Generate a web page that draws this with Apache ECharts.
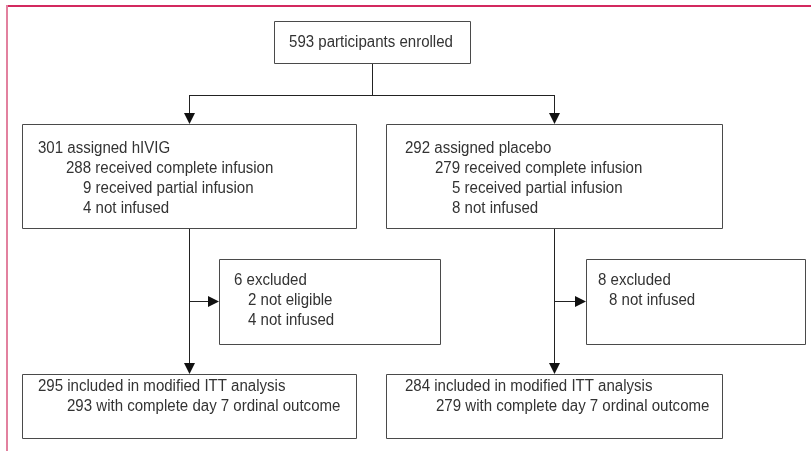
<!DOCTYPE html>
<html>
<head>
<meta charset="utf-8">
<script src="https://cdn.jsdelivr.net/npm/echarts@6/dist/echarts.min.js"></script>
<style>
  html, body { margin: 0; padding: 0; background: #fff; }
  #main { width: 811px; height: 451px; }
</style>
</head>
<body>
<div id="main"></div>
<script>
// box texts (flow counts)
const enrolledText = ['593 participants enrolled']
const hivigText = ['301 assigned hIVIG', '288 received complete infusion', '9 received partial infusion', '4 not infused']
const placeboText = ['292 assigned placebo', '279 received complete infusion', '5 received partial infusion', '8 not infused']
const hivigExcludedText = ['6 excluded', '2 not eligible', '4 not infused']
const placeboExcludedText = ['8 excluded', '8 not infused']
const hivigIttText = ['295 included in modified ITT analysis', '293 with complete day 7 ordinal outcome']
const placeboIttText = ['284 included in modified ITT analysis', '279 with complete day 7 ordinal outcome']

// layout, in page pixels
const boxes = [
  { text: enrolledText, rect: [274, 21, 470, 63], tx: [371], ty: 42, align: 'center' },
  { text: hivigText, rect: [22, 124, 356, 228], tx: [38, 66, 83, 83], ty: 148 },
  { text: placeboText, rect: [386, 124, 722, 228], tx: [405, 435, 452, 452], ty: 148 },
  { text: hivigExcludedText, rect: [219, 259, 440, 344], tx: [234, 248, 248], ty: 280 },
  { text: placeboExcludedText, rect: [586, 259, 805, 344], tx: [598, 609], ty: 280 },
  { text: hivigIttText, rect: [22, 374, 356, 438], tx: [38, 67], ty: 386 },
  { text: placeboIttText, rect: [386, 374, 722, 438], tx: [405, 436], ty: 386 }
]
const lineGap = 20

// connectors: x0, y0, x1, y1, arrow at end (1/0)
const links = [
  [372, 63, 372, 95, 0],
  [189, 95, 554, 95, 0],
  [189, 95, 189, 124, 1],
  [554, 95, 554, 124, 1],
  [189, 228, 189, 374, 1],
  [554, 228, 554, 374, 1],
  [189, 301, 219, 301, 1],
  [554, 301, 586, 301, 1]
]

const FONT = '16px "Liberation Sans", Arial, sans-serif'
const SQUEEZE = 0.94 // narrower face in the original
const INK = '#333'
const STROKE = '#4a4a4a'

const chart = echarts.init(document.getElementById('main'), null, { renderer: 'canvas' })

function renderBox (params, api) {
  const b = boxes[params.dataIndex]
  const p0 = api.coord([api.value(0), api.value(1)])
  const p1 = api.coord([api.value(2), api.value(3)])
  const children = [{
    type: 'rect',
    shape: { x: p0[0] + 0.5, y: p0[1] + 0.5, width: p1[0] - p0[0], height: p1[1] - p0[1] },
    style: { fill: '#fff', stroke: STROKE, lineWidth: 1 }
  }]
  b.text.forEach((t, i) => {
    const pt = api.coord([b.tx[i], b.ty + i * lineGap])
    children.push({
      type: 'text',
      x: pt[0],
      y: pt[1] + 1,
      scaleX: SQUEEZE,
      style: {
        x: 0, y: 0, text: t, font: FONT, fill: INK,
        align: b.align || 'left', verticalAlign: 'middle'
      }
    })
  })
  return { type: 'group', children }
}

function renderLink (params, api) {
  const a = api.coord([api.value(0), api.value(1)])
  const b = api.coord([api.value(2), api.value(3)])
  const arrow = api.value(4)
  const vertical = Math.abs(a[0] - b[0]) < 0.5
  const len = 11, half = 5.5
  let end = b.slice()
  const children = []
  if (arrow) {
    let pts
    if (vertical) {
      end = [b[0], b[1] - len]
      pts = [[b[0] + 0.5, b[1]], [b[0] - half + 0.5, b[1] - len], [b[0] + half + 0.5, b[1] - len]]
    } else {
      end = [b[0] - len, b[1]]
      pts = [[b[0], b[1] + 0.5], [b[0] - len, b[1] - half + 0.5], [b[0] - len, b[1] + half + 0.5]]
    }
    children.push({ type: 'polygon', shape: { points: pts }, style: { fill: '#111' } })
  }
  const off = vertical ? [0.5, 0] : [0, 0.5]
  children.unshift({
    type: 'line',
    shape: { x1: a[0] + off[0], y1: a[1] + off[1], x2: end[0] + off[0], y2: end[1] + off[1] },
    style: { stroke: '#222', lineWidth: 1 }
  })
  return { type: 'group', children }
}

chart.setOption({
  animation: false,
  backgroundColor: '#fff',
  grid: { left: 0, right: 0, top: 0, bottom: 0 },
  xAxis: { type: 'value', min: 0, max: 811, show: false },
  yAxis: { type: 'value', min: 0, max: 451, inverse: true, show: false },
  graphic: [
    // page frame
    { type: 'line', shape: { x1: 7, y1: 6, x2: 811, y2: 6 }, style: { stroke: '#d3295f', lineWidth: 2 } },
    { type: 'line', shape: { x1: 7, y1: 5, x2: 7, y2: 451 }, style: { stroke: '#e2819f', lineWidth: 2 } }
  ],
  series: [
    {
      type: 'custom',
      renderItem: renderLink,
      data: links,
      silent: true,
      z: 1
    },
    {
      type: 'custom',
      renderItem: renderBox,
      data: boxes.map(b => b.rect),
      silent: true,
      z: 2
    }
  ]
})
</script>
</body>
</html>
